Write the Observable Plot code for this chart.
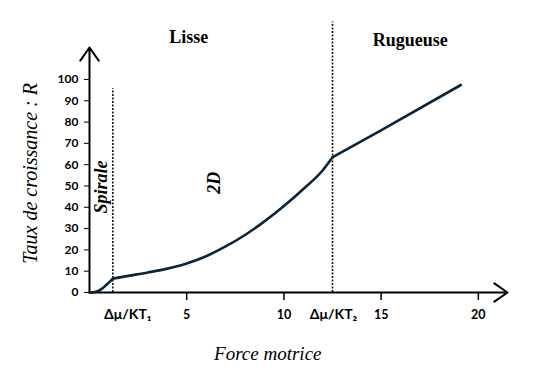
<!DOCTYPE html>
<html>
<head>
<meta charset="utf-8">
<script src="https://cdn.jsdelivr.net/npm/d3@7"></script>
<script src="https://cdn.jsdelivr.net/npm/@observablehq/plot@0.6"></script>
<style>
  html, body { margin: 0; padding: 0; background: #fff; }
  svg { display: block; }
</style>
</head>
<body>
<div id="chart"></div>
<script>
// Growth curve: [force motrice, taux de croissance]
const spiralSeg = [[0, 0], [0.2, 0.1], [0.45, 0.7], [0.8, 3.0], [1.2, 6.5]];
const twoDSeg = [[1.2, 6.5], [2, 7.8], [3, 9.4], [4, 11.2], [5, 13.6], [6, 17.0], [7, 21.6],
                 [8, 27.0], [9, 33.4], [10, 40.6], [11, 48.6], [12, 57.4], [12.5, 63.5]];
const rughSeg = [[12.5, 63.5], [14.9, 75.6], [19.1, 97.4]];

// Threshold markers
const kt1 = 1.2, kt2 = 12.5;
const kt1Top = 95.6, kt2Top = 127;

// Axes
const yTicks = [0, 10, 20, 30, 40, 50, 60, 70, 80, 90, 100];
const xTicks = [5, 10, 15, 20];
const xMax = 21.5, yMax = 115;

// Labels
const regionLabels = [
  {x: 5.1, y: 120, text: "Lisse"},
  {x: 16.5, y: 118.5, text: "Rugueuse"}
];
const thresholdLabels = [
  {x: 1.97, y: -10.5, text: "Δμ/KT₁"},
  {x: 12.55, y: -10.5, text: "Δμ/KT₂"}
];
const rotatedLabels = [
  {x: 0.58, y: 49.5, text: "Spirale"},
  {x: 6.4, y: 51.5, text: "2D"}
];

const curve = [
  ...spiralSeg.map(([x, y]) => ({x, y, seg: "spirale"})),
  ...twoDSeg.map(([x, y]) => ({x, y, seg: "2d"})),
  ...rughSeg.map(([x, y]) => ({x, y, seg: "rugueuse"}))
];

const sans = "Lato, 'Open Sans', sans-serif";
const serif = "'Liberation Serif', 'DejaVu Serif', serif";

const chart = Plot.plot({
  width: 550,
  height: 373,
  marginLeft: 89,
  marginRight: 43,
  marginTop: 47,
  marginBottom: 81,
  style: {background: "#fff", color: "#000", overflow: "visible"},
  x: {domain: [0, xMax]},
  y: {domain: [0, yMax]},
  marks: [
    // dashed thresholds
    Plot.ruleX([kt1], {y1: 0, y2: kt1Top, stroke: "#111", strokeWidth: 1.6, strokeDasharray: "2,1.5"}),
    Plot.ruleX([kt2], {y1: 0, y2: kt2Top, stroke: "#111", strokeWidth: 1.6, strokeDasharray: "2,1.5"}),
    // y axis ticks and labels
    Plot.axisY({ticks: yTicks, tickSize: 5, tickPadding: 6, fontSize: 12, fontWeight: "bold",
      fontFamily: sans, stroke: "#000", strokeWidth: 1, label: null}),
    // x axis ticks and labels
    Plot.axisX({ticks: xTicks, tickSize: 8, tickPadding: 10, fontSize: 12.5, fontWeight: "bold",
      fontFamily: sans, stroke: "#000", strokeWidth: 1.5, label: null}),
    Plot.text(thresholdLabels, {x: "x", y: "y", text: "text",
      fontSize: 14, fontWeight: "bold", fontFamily: sans, fill: "#000"}),
    // axis lines with arrows
    Plot.arrow([{x1: 0, y1: 0, x2: 0, y2: yMax}], {x1: "x1", y1: "y1", x2: "x2", y2: "y2",
      stroke: "#000", strokeWidth: 2, headLength: 12, headAngle: 70, inset: 0}),
    Plot.arrow([{x1: 0, y1: 0, x2: xMax, y2: 0}], {x1: "x1", y1: "y1", x2: "x2", y2: "y2",
      stroke: "#000", strokeWidth: 2, headLength: 12, headAngle: 70, inset: 0}),
    // curve
    Plot.line(curve, {x: "x", y: "y", z: "seg", curve: "monotone-x", stroke: "#0b2438", strokeWidth: 2.6}),
    // region labels
    Plot.text(regionLabels, {x: "x", y: "y", text: "text", fontSize: 18, fontWeight: "bold",
      fontFamily: serif, fill: "#000"}),
    Plot.text(rotatedLabels, {x: "x", y: "y", text: "text", rotate: -90, fontSize: 18, fontWeight: "bold",
      fontStyle: "italic", fontFamily: serif, fill: "#000"}),
    // axis titles
    Plot.text(["Force motrice"], {x: 9.17, y: -28.9, text: d => d, fontSize: 19, fontStyle: "italic",
      fontFamily: serif, fill: "#000"}),
    Plot.text(["Taux de croissance : R"], {x: -3.03, y: 55.9, text: d => d, rotate: -90, fontSize: 20,
      fontStyle: "italic", fontFamily: serif, fill: "#000"})
  ]
});
document.getElementById("chart").appendChild(chart);
</script>
</body>
</html>
